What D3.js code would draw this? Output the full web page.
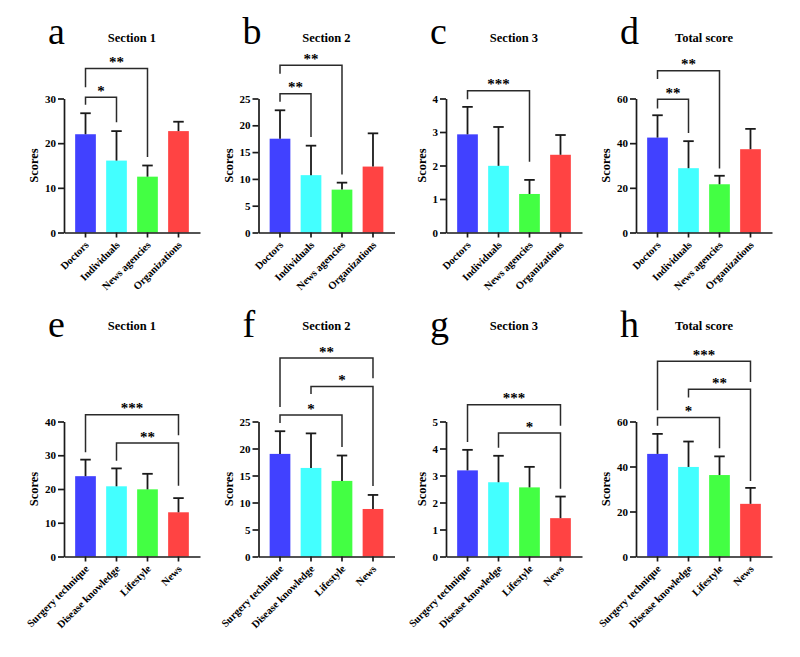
<!DOCTYPE html>
<html>
<head>
<meta charset="utf-8">
<script src="https://cdn.jsdelivr.net/npm/d3@7"></script>
<style>
  html, body { margin: 0; padding: 0; background: #fff; }
  svg { display: block; }
</style>
</head>
<body>
<script>
// ---------- data ----------
const sourceCategories = ["Doctors", "Individuals", "News agencies", "Organizations"];
const contentCategories = ["Surgery technique", "Disease knowledge", "Lifestyle", "News"];
const barColors = ["#4141ff", "#43ffff", "#43ff43", "#ff4343"];

const panelLetters = ["a", "b", "c", "d", "e", "f", "g", "h"];
const panelTitles = ["Section 1", "Section 2", "Section 3", "Total score",
                     "Section 1", "Section 2", "Section 3", "Total score"];

// means and SD (upper error bar) per panel
const meansA = [22.0, 16.1, 12.5, 22.7];  const sdA = [4.7, 6.6, 2.5, 2.1];
const meansB = [17.5, 10.7, 8.0, 12.3];   const sdB = [5.3, 5.5, 1.3, 6.2];
const meansC = [2.93, 1.99, 1.15, 2.32];  const sdC = [0.82, 1.16, 0.42, 0.59];
const meansD = [42.5, 28.8, 21.6, 37.3];  const sdD = [10.0, 12.1, 3.8, 9.1];
const meansE = [23.8, 20.8, 19.9, 13.1];  const sdE = [4.9, 5.3, 4.6, 4.2];
const meansF = [19.0, 16.4, 14.0, 8.8];   const sdF = [4.2, 6.4, 4.7, 2.6];
const meansG = [3.19, 2.75, 2.56, 1.42];  const sdG = [0.76, 0.98, 0.76, 0.80];
const meansH = [45.6, 39.8, 36.2, 23.4];  const sdH = [8.9, 11.3, 8.3, 7.1];

// y-axis tick labels per panel
const ticksA = [0, 10, 20, 30];
const ticksB = [0, 5, 10, 15, 20, 25];
const ticksC = [0, 1, 2, 3, 4];
const ticksD = [0, 20, 40, 60];
const ticksE = [0, 10, 20, 30, 40];
const ticksF = [0, 5, 10, 15, 20, 25];
const ticksG = [0, 1, 2, 3, 4, 5];
const ticksH = [0, 20, 40, 60];

// significance comparisons: [fromIndex, toIndex, label, bracket level, left leg end, right leg end] (data units)
const compsA = [[0, 1, "*", 30.3, 28.6, 24.7], [0, 2, "**", 36.7, 32.5, 16.9]];
const compsB = [[0, 1, "**", 25.9, 24.4, 17.8], [0, 2, "**", 31.2, 29.6, 10.8]];
const compsC = [[0, 2, "***", 4.23, 3.98, 2.11]];
const compsD = [[0, 1, "**", 59.7, 55.5, 44.6], [0, 2, "**", 72.4, 68.7, 28.7]];
const compsE = [[0, 3, "***", 42.0, 30.9, 35.9], [1, 3, "**", 33.6, 28.4, 21.0]];
const compsF = [[0, 3, "**", 36.75, 27.7, 33.0], [1, 3, "*", 31.5, 30.1, 13.05], [0, 2, "*", 26.2, 24.7, 20.3]];
const compsG = [[0, 3, "***", 5.62, 4.24, 4.84], [1, 3, "*", 4.57, 4.03, 2.51]];
const compsH = [[0, 3, "***", 86.8, 65.0, 77.6], [1, 3, "**", 74.3, 70.7, 33.6], [0, 2, "*", 61.8, 58.1, 48.1]];

// ---------- assemble ----------
const allMeans = [meansA, meansB, meansC, meansD, meansE, meansF, meansG, meansH];
const allSds = [sdA, sdB, sdC, sdD, sdE, sdF, sdG, sdH];
const allTicks = [ticksA, ticksB, ticksC, ticksD, ticksE, ticksF, ticksG, ticksH];
const allComps = [compsA, compsB, compsC, compsD, compsE, compsF, compsG, compsH];

const FONT = "'Liberation Serif'";
const W = 800, H = 657;
const colX = [64, 258.5, 446, 636];
const axisW = 136;
const rowsY = [{ top: 98.5, bottom: 232.5 }, { top: 421.5, bottom: 556.5 }];
const rowLetterY = [44, 337];
const rowTitleY = [41.5, 330];

const svg = d3.select("body").append("svg").attr("width", W).attr("height", H);

function styled(sel, size, bold) {
  return sel.style("font-family", FONT).attr("font-size", size)
    .attr("font-weight", bold ? "bold" : "normal").attr("fill", "#000");
}

panelLetters.forEach((letter, p) => {
  const row = p < 4 ? 0 : 1;
  const col = p % 4;
  const cats = row === 0 ? sourceCategories : contentCategories;
  const ax = colX[col];
  const { top, bottom } = rowsY[row];
  const ticks = allTicks[p];
  const means = allMeans[p], sds = allSds[p];
  const data = cats.map((c, i) => ({ cat: c, mean: means[i], sd: sds[i], color: barColors[i] }));

  const x = d3.scaleBand().domain(cats).range([ax, ax + axisW]).paddingInner(0.332).paddingOuter(0.36);
  const y = d3.scaleLinear().domain([0, d3.max(ticks)]).range([bottom, top]);

  const g = svg.append("g");

  // panel letter
  styled(g.append("text").attr("x", ax - 16).attr("y", rowLetterY[row]), 38, false).text(letter);
  // title
  styled(g.append("text").attr("x", ax + axisW / 2).attr("y", rowTitleY[row])
    .attr("text-anchor", "middle"), 12.5, true).text(panelTitles[p]);

  // bars
  g.selectAll("rect.bar").data(data).join("rect").attr("class", "bar")
    .attr("x", d => x(d.cat)).attr("width", x.bandwidth())
    .attr("y", d => y(d.mean)).attr("height", d => y(0) - y(d.mean))
    .attr("fill", d => d.color);

  // error bars
  const capW = 10.5;
  const eb = g.selectAll("g.err").data(data).join("g").attr("class", "err")
    .attr("stroke", "#1a1a1a").attr("stroke-width", 1.8);
  eb.append("line")
    .attr("x1", d => x(d.cat) + x.bandwidth() / 2).attr("x2", d => x(d.cat) + x.bandwidth() / 2)
    .attr("y1", d => y(d.mean)).attr("y2", d => y(d.mean + d.sd));
  eb.append("line")
    .attr("x1", d => x(d.cat) + x.bandwidth() / 2 - capW / 2).attr("x2", d => x(d.cat) + x.bandwidth() / 2 + capW / 2)
    .attr("y1", d => y(d.mean + d.sd)).attr("y2", d => y(d.mean + d.sd));

  // y axis
  const yAxis = g.append("g").attr("transform", `translate(${ax},0)`)
    .call(d3.axisLeft(y).tickValues(ticks).tickFormat(d3.format("d")).tickSize(6).tickSizeOuter(0).tickPadding(2));
  yAxis.attr("font-family", null).attr("font-size", null);
  yAxis.selectAll("path, line").attr("stroke", "#1a1a1a").attr("stroke-width", 1.7);
  styled(yAxis.selectAll("text"), 11, true);

  // x axis
  const xAxis = g.append("g").attr("transform", `translate(0,${bottom})`)
    .call(d3.axisBottom(x).tickSize(5).tickSizeOuter(0));
  xAxis.attr("font-family", null).attr("font-size", null);
  xAxis.selectAll("path, line").attr("stroke", "#1a1a1a").attr("stroke-width", 1.7);
  styled(xAxis.selectAll("text"), 10.5, true)
    .attr("text-anchor", "end").attr("dy", null).attr("y", null)
    .attr("transform", "translate(4,13) rotate(-45)");

  // y label
  const bb = yAxis.node().getBBox();
  styled(g.append("text")
    .attr("transform", `translate(${ax + bb.x - 7},${(top + bottom) / 2}) rotate(-90)`)
    .attr("text-anchor", "middle"), 12.5, true).text("Scores");

  // significance brackets
  allComps[p].forEach(([i, j, label, level, leftEnd, rightEnd]) => {
    const x0 = x(cats[i]) + x.bandwidth() / 2;
    const x1 = x(cats[j]) + x.bandwidth() / 2;
    const path = d3.path();
    path.moveTo(x0, y(leftEnd));
    path.lineTo(x0, y(level));
    path.lineTo(x1, y(level));
    path.lineTo(x1, y(rightEnd));
    g.append("path").attr("d", path.toString())
      .attr("fill", "none").attr("stroke", "#2a2a2a").attr("stroke-width", 1.5);
    styled(g.append("text").attr("x", (x0 + x1) / 2).attr("y", y(level) - 1.5)
      .attr("text-anchor", "middle"), 15, true).text(label);
  });
});
</script>
</body>
</html>
